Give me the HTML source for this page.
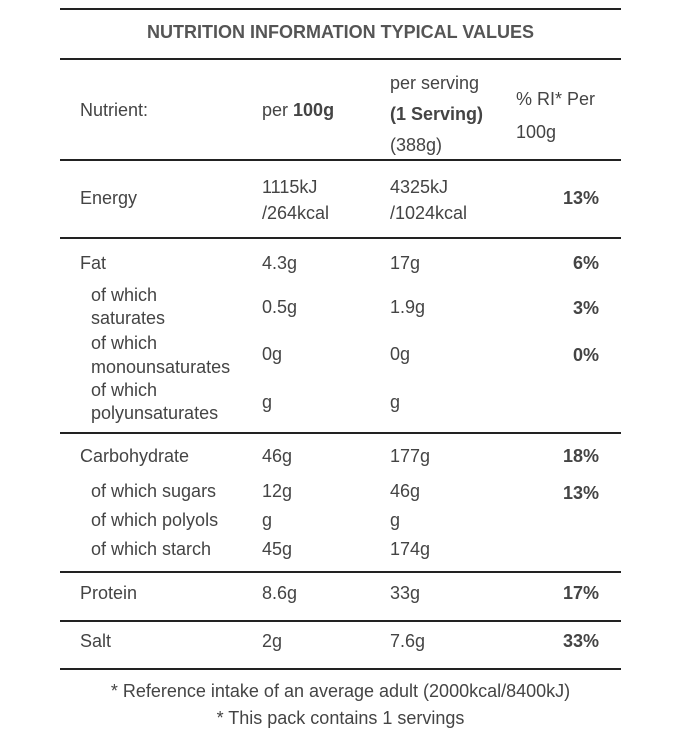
<!DOCTYPE html>
<html><head><meta charset="utf-8"><style>
html,body{margin:0;padding:0;background:#fff;}
body{width:681px;height:738px;position:relative;overflow:hidden;font-family:"Liberation Sans Narrow","Liberation Sans",sans-serif;color:#444;font-size:18px;}
.t{position:absolute;line-height:22px;white-space:nowrap;}
.b{font-weight:bold;}
.r{text-align:right;width:120px;}
.c{text-align:center;left:0;width:681px;}
.ln{position:absolute;left:60px;width:561px;height:2px;background:#222;}
</style></head><body>
<div class="ln" style="top:8px"></div>
<div class="t c b" style="top:21px;color:#555">NUTRITION INFORMATION TYPICAL VALUES</div>
<div class="ln" style="top:58px"></div>

<div class="t" style="left:80px;top:99px">Nutrient:</div>
<div class="t" style="left:262px;top:99px">per <b>100g</b></div>
<div class="t" style="left:390px;top:68px;line-height:31px">per serving<br><b>(1 Serving)</b><br>(388g)</div>
<div class="t" style="left:516px;top:83px;line-height:33px">% RI* Per<br>100g</div>
<div class="ln" style="top:159px"></div>

<div class="t" style="left:80px;top:187px">Energy</div>
<div class="t" style="left:262px;top:174px;line-height:26px">1115kJ<br>/264kcal</div>
<div class="t" style="left:390px;top:174px;line-height:26px">4325kJ<br>/1024kcal</div>
<div class="t r b" style="left:479px;top:187px">13%</div>
<div class="ln" style="top:237px"></div>

<div class="t" style="left:80px;top:252px">Fat</div>
<div class="t" style="left:262px;top:252px">4.3g</div>
<div class="t" style="left:390px;top:252px">17g</div>
<div class="t r b" style="left:479px;top:252px">6%</div>

<div class="t" style="left:91px;top:284px;line-height:23px">of which<br>saturates</div>
<div class="t" style="left:262px;top:296px">0.5g</div>
<div class="t" style="left:390px;top:296px">1.9g</div>
<div class="t r b" style="left:479px;top:297px">3%</div>

<div class="t" style="left:91px;top:331px;line-height:24px">of which<br>monounsaturates</div>
<div class="t" style="left:262px;top:343px">0g</div>
<div class="t" style="left:390px;top:343px">0g</div>
<div class="t r b" style="left:479px;top:344px">0%</div>

<div class="t" style="left:91px;top:379px;line-height:23px">of which<br>polyunsaturates</div>
<div class="t" style="left:262px;top:391px">g</div>
<div class="t" style="left:390px;top:391px">g</div>
<div class="ln" style="top:432px"></div>

<div class="t" style="left:80px;top:445px">Carbohydrate</div>
<div class="t" style="left:262px;top:445px">46g</div>
<div class="t" style="left:390px;top:445px">177g</div>
<div class="t r b" style="left:479px;top:445px">18%</div>
<div class="t" style="left:91px;top:480px">of which sugars</div>
<div class="t" style="left:262px;top:480px">12g</div>
<div class="t" style="left:390px;top:480px">46g</div>
<div class="t r b" style="left:479px;top:482px">13%</div>
<div class="t" style="left:91px;top:509px">of which polyols</div>
<div class="t" style="left:262px;top:509px">g</div>
<div class="t" style="left:390px;top:509px">g</div>
<div class="t" style="left:91px;top:538px">of which starch</div>
<div class="t" style="left:262px;top:538px">45g</div>
<div class="t" style="left:390px;top:538px">174g</div>
<div class="ln" style="top:571px"></div>

<div class="t" style="left:80px;top:582px">Protein</div>
<div class="t" style="left:262px;top:582px">8.6g</div>
<div class="t" style="left:390px;top:582px">33g</div>
<div class="t r b" style="left:479px;top:582px">17%</div>
<div class="ln" style="top:620px"></div>

<div class="t" style="left:80px;top:630px">Salt</div>
<div class="t" style="left:262px;top:630px">2g</div>
<div class="t" style="left:390px;top:630px">7.6g</div>
<div class="t r b" style="left:479px;top:630px">33%</div>
<div class="ln" style="top:668px"></div>

<div class="t c" style="top:680px">* Reference intake of an average adult (2000kcal/8400kJ)</div>
<div class="t c" style="top:707px">* This pack contains 1 servings</div>
</body></html>
